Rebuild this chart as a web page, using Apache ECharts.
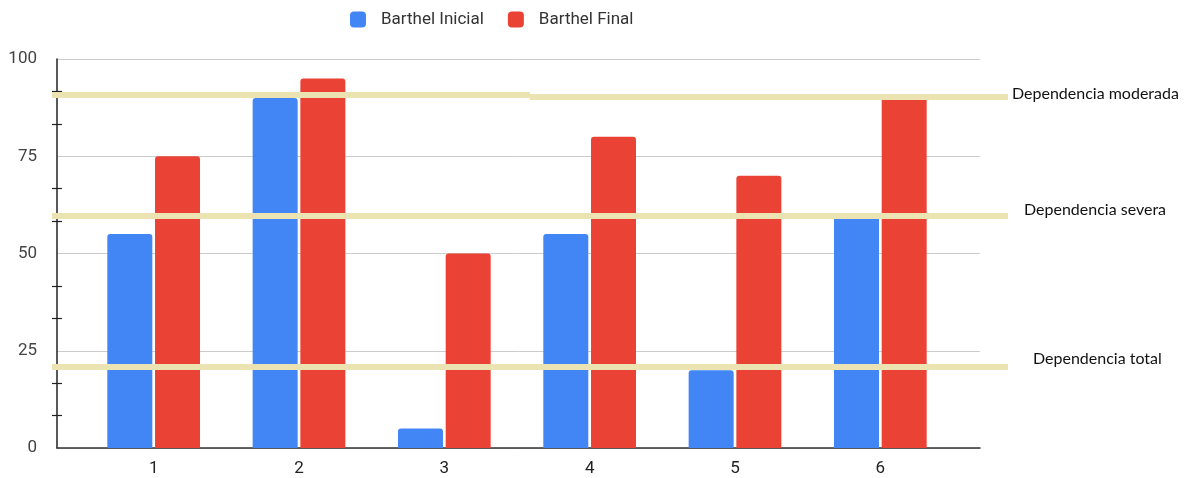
<!DOCTYPE html>
<html>
<head>
<meta charset="utf-8">
<script src="https://cdn.jsdelivr.net/npm/echarts@6/dist/echarts.min.js"></script>
<style>
  html, body { margin: 0; padding: 0; background: #fff; }
  #chart { width: 1188px; height: 478px; }
</style>
</head>
<body>
<div id="chart"></div>
<script>
// Patients 1-6, Barthel index at admission and at discharge
const categories = ['1', '2', '3', '4', '5', '6'];
const barthelInicial = [55, 90, 5, 55, 20, 60];
const barthelFinal = [75, 95, 50, 80, 70, 90];
const yTicks = [0, 25, 50, 75, 100];

// Dependency thresholds drawn across the chart
const thresholdNames = ['Dependencia moderada', 'Dependencia severa', 'Dependencia total'];
// the "moderada" band is drawn in two halves with a slight step between them
const moderadaLeft = 90.8;
const moderadaRight = 90.3;
const severaValue = 59.6;
const totalValue = 21;

const blue = '#4285f4';
const red = '#ea4335';
const band = '#ece3b2';
const font = 'Roboto, "Liberation Sans", Arial, sans-serif';
const noteFont = 'Lato, "Open Sans", sans-serif';

const chart = echarts.init(document.getElementById('chart'), null, { renderer: 'canvas' });

// caption sitting just above the right end of a band
function noteLabel(text, padLeft, lift) {
  return {
    show: true,
    position: 'end',
    distance: 2,
    formatter: text,
    fontFamily: noteFont,
    fontSize: 16,
    color: '#111',
    verticalAlign: 'bottom',
    lineHeight: lift * 2,
    padding: [0, 0, 0, padLeft]
  };
}

const thresholdLines = [
  [{ coord: [0, moderadaLeft], label: { show: false } }, { coord: [0.5, moderadaLeft] }],
  [{ coord: [0.5, moderadaRight], label: noteLabel(thresholdNames[0], 2, 2.5) }, { coord: [1, moderadaRight] }],
  [{ coord: [0, severaValue], label: noteLabel(thresholdNames[1], 14, 6.5) }, { coord: [1, severaValue] }],
  [{ coord: [0, totalValue], label: noteLabel(thresholdNames[2], 23, 7) }, { coord: [1, totalValue] }]
];

const tickStyle = { color: '#222', width: 1.2 };

const option = {
  animation: false,
  backgroundColor: '#fff',
  legend: {
    top: 11,
    left: 350,
    padding: 0,
    itemWidth: 16,
    itemHeight: 16,
    itemGap: 24,
    icon: 'roundRect',
    textStyle: { fontFamily: font, fontSize: 17, color: '#333', padding: [0, 0, 0, 10] },
    data: ['Barthel Inicial', 'Barthel Final']
  },
  grid: [
    // plot frame: y scale, labels, gridlines, x axis line
    { left: 57, right: 208, top: 59, bottom: 30 },
    // bars and category labels
    { left: 81, right: 235, top: 59, bottom: 30 },
    // threshold bands reaching past the plot frame
    { left: 52, right: 180, top: 59, bottom: 30 },
    // y axis line with minor ticks crossing it
    { left: 62, right: 208, top: 59, bottom: 30 }
  ],
  xAxis: [
    {
      type: 'value',
      gridIndex: 0,
      min: 0,
      max: 1,
      axisLine: { show: true, onZero: false, lineStyle: { color: '#333', width: 1.5 } },
      axisTick: { show: false },
      axisLabel: { show: false },
      splitLine: { show: false }
    },
    {
      type: 'category',
      gridIndex: 1,
      data: categories,
      axisLine: { show: false },
      axisTick: { show: false },
      axisLabel: { fontFamily: font, fontSize: 17, color: '#222', margin: 12 }
    },
    { type: 'value', gridIndex: 2, min: 0, max: 1, show: false },
    { type: 'value', gridIndex: 3, min: 0, max: 1, show: false }
  ],
  yAxis: [
    {
      type: 'value',
      gridIndex: 0,
      position: 'left',
      min: yTicks[0],
      max: yTicks[yTicks.length - 1],
      interval: 25,
      axisLine: { show: true, lineStyle: { color: '#222', width: 1.5 } },
      axisTick: { show: false },
      splitLine: { lineStyle: { color: '#cccccc' } },
      axisLabel: { fontFamily: font, fontSize: 17, color: '#444', margin: 20 }
    },
    { type: 'value', gridIndex: 1, min: 0, max: 100, show: false },
    { type: 'value', gridIndex: 2, min: 0, max: 100, show: false },
    {
      // sits 5px right of the frame edge; its minor ticks reach 10px leftwards across the axis line
      type: 'value',
      gridIndex: 3,
      position: 'left',
      min: yTicks[0],
      max: yTicks[yTicks.length - 1],
      interval: 25,
      axisLine: { show: false },
      axisTick: { show: false },
      axisLabel: { show: false },
      splitLine: { show: false },
      minorTick: { show: true, splitNumber: 3, length: 10, lineStyle: tickStyle }
    }
  ],
  series: [
    {
      name: 'Barthel Inicial',
      type: 'bar',
      xAxisIndex: 1,
      yAxisIndex: 1,
      data: barthelInicial,
      barWidth: 45,
      barGap: '6%',
      itemStyle: { color: blue, borderRadius: [3, 3, 0, 0] }
    },
    {
      name: 'Barthel Final',
      type: 'bar',
      xAxisIndex: 1,
      yAxisIndex: 1,
      data: barthelFinal,
      barWidth: 45,
      barGap: '6%',
      itemStyle: { color: red, borderRadius: [3, 3, 0, 0] }
    },
    {
      name: 'umbrales',
      type: 'line',
      xAxisIndex: 2,
      yAxisIndex: 2,
      data: [],
      z: 10,
      markLine: {
        silent: true,
        symbol: ['none', 'none'],
        lineStyle: { color: band, width: 6, type: 'solid' },
        data: thresholdLines
      }
    }
  ]
};

chart.setOption(option);
</script>
</body>
</html>
